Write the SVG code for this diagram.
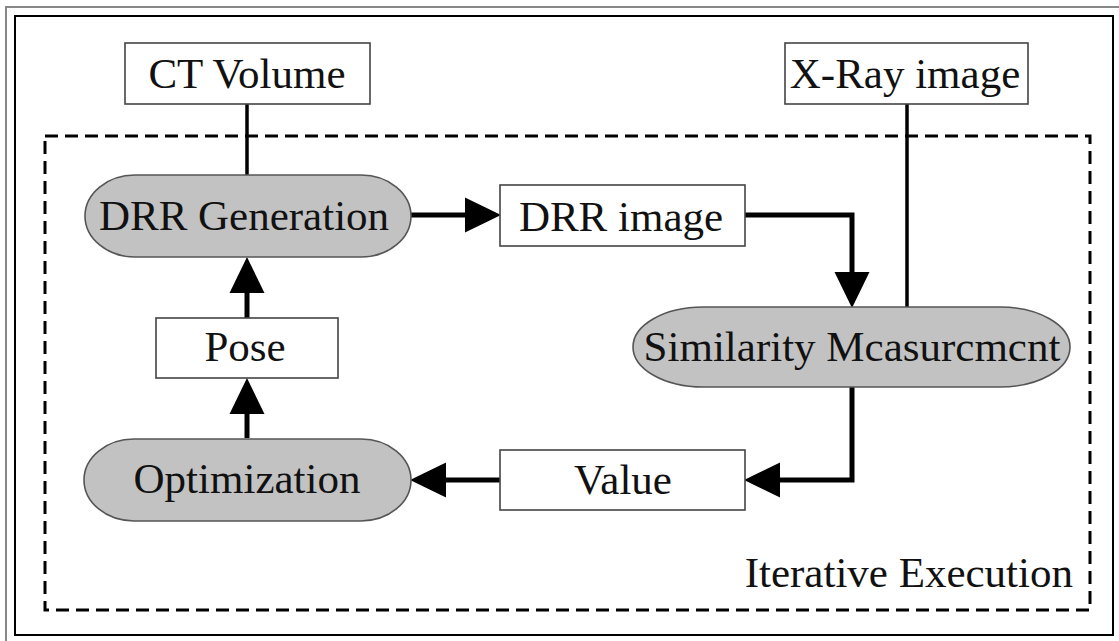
<svg xmlns="http://www.w3.org/2000/svg" width="1119" height="641" viewBox="0 0 1119 641">
  <style>
    .lbl { font-family: "Liberation Serif", "Times New Roman", serif; font-size: 43px; fill: #111; text-anchor: middle; }
    .box { fill: #fff; stroke: #444; stroke-width: 1.6; }
    .pill { fill: #c2c2c2; stroke: #555; stroke-width: 1.6; }
    .feed { fill: none; stroke: #000; stroke-width: 3.5; }
    .flow { fill: none; stroke: #000; stroke-width: 5; stroke-linejoin: miter; }
  </style>
  <defs>
    <marker id="head" markerUnits="userSpaceOnUse" markerWidth="36" markerHeight="36" viewBox="0 0 35 34" refX="0" refY="17" orient="auto">
      <path d="M0,0 L35,17 L0,34 Z" fill="#000"/>
    </marker>
  </defs>

  <rect x="0" y="0" width="1119" height="641" fill="#fff"/>
  <!-- outer frame -->
  <path d="M6,641 V7 H1119" fill="none" stroke="#888" stroke-width="2"/>
  <rect x="15" y="16" width="1098" height="619" fill="none" stroke="#000" stroke-width="2"/>

  <!-- iteration boundary -->
  <g id="iteration">
    <rect x="45" y="136" width="1045" height="474" fill="none" stroke="#000" stroke-width="3" stroke-dasharray="13 7"/>
    <text class="lbl" x="1073" y="587" style="text-anchor:end">Iterative Execution</text>
  </g>

  <!-- connectors -->
  <g id="connectors">
    <line class="feed" x1="247" y1="104" x2="247" y2="175"/>
    <line class="feed" x1="907" y1="104" x2="907" y2="307"/>
    <path class="flow" d="M411,215 H465" marker-end="url(#head)"/>
    <path class="flow" d="M745,215 H852 V272" marker-end="url(#head)"/>
    <path class="flow" d="M852,387 V480 H780" marker-end="url(#head)"/>
    <path class="flow" d="M500,480 H446" marker-end="url(#head)"/>
    <path class="flow" d="M247,438 V414" marker-end="url(#head)"/>
    <path class="flow" d="M247,318 V293" marker-end="url(#head)"/>
  </g>

  <g id="ct-volume">
    <rect class="box" x="125" y="43" width="245" height="61"/>
    <text class="lbl" x="247" y="88">CT Volume</text>
  </g>

  <g id="xray-image">
    <rect class="box" x="785" y="43" width="243" height="61"/>
    <text class="lbl" x="905" y="88">X-Ray image</text>
  </g>

  <g id="drr-generation">
    <rect class="pill" x="85" y="175" width="326" height="82" rx="50" ry="41"/>
    <text class="lbl" x="244" y="230">DRR Generation</text>
  </g>

  <g id="drr-image">
    <rect class="box" x="500" y="185" width="245" height="61"/>
    <text class="lbl" x="621" y="231">DRR image</text>
  </g>

  <g id="similarity">
    <rect class="pill" x="633" y="307" width="437" height="80" rx="70" ry="40"/>
    <text class="lbl" x="852" y="361">Similarity Mcasurcmcnt</text>
  </g>

  <g id="pose">
    <rect class="box" x="156" y="318" width="182" height="60"/>
    <text class="lbl" x="245" y="361">Pose</text>
  </g>

  <g id="optimization">
    <rect class="pill" x="84" y="439" width="327" height="82" rx="50" ry="41"/>
    <text class="lbl" x="247" y="493">Optimization</text>
  </g>

  <g id="value">
    <rect class="box" x="500" y="450" width="245" height="60"/>
    <text class="lbl" x="623" y="494">Value</text>
  </g>
</svg>
